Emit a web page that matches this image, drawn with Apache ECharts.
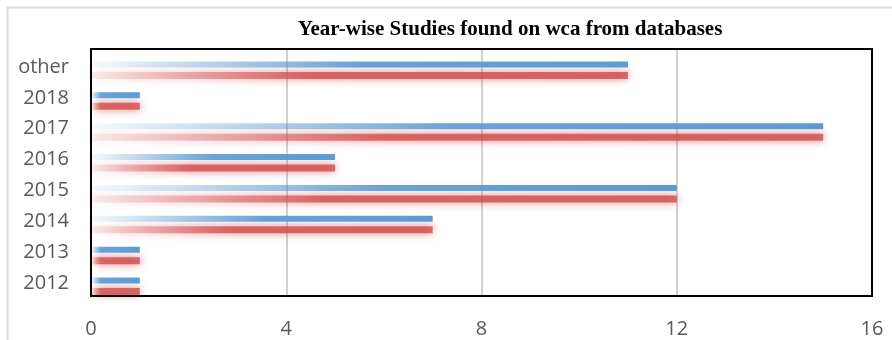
<!DOCTYPE html>
<html>
<head>
<meta charset="utf-8">
<script src="https://cdn.jsdelivr.net/npm/echarts@6/dist/echarts.min.js"></script>
<style>html,body{margin:0;padding:0;background:#fff;}#c{width:892px;height:340px;}</style>
</head>
<body>
<div id="c"></div>
<script>
const categories = ['2012', '2013', '2014', '2015', '2016', '2017', '2018', 'other'];
const seriesBlue = [1, 1, 7, 12, 5, 15, 1, 11];
const seriesRed = [1, 1, 7, 12, 5, 15, 1, 11];
const xTicks = [0, 4, 8, 12, 16];
const titleText = 'Year-wise Studies found on wca from databases';

const chart = echarts.init(document.getElementById('c'), null, {renderer: 'canvas'});

function blueColor(p) {
  const full = p.value <= 1 ? 0.2 : 0.5;
  return new echarts.graphic.LinearGradient(0, 0, 1, 0, [
    {offset: 0, color: 'rgba(91,155,213,0.05)'},
    {offset: full, color: 'rgba(91,155,213,0.92)'},
    {offset: 1, color: 'rgba(91,155,213,1)'}
  ]);
}
function redColor(p) {
  const full = p.value <= 1 ? 0.2 : 0.4;
  return new echarts.graphic.LinearGradient(0, 0, 1, 0, [
    {offset: 0, color: 'rgba(214,80,80,0.08)'},
    {offset: full, color: 'rgba(206,62,62,0.7)'},
    {offset: 1, color: 'rgba(206,62,62,0.72)'}
  ]);
}

const gridBase = {left: 91, width: 781, height: 247};
const xMin = xTicks[0], xMax = xTicks[xTicks.length - 1], xStep = xTicks[1] - xTicks[0];

chart.setOption({
  animation: false,
  title: {
    text: titleText,
    left: 505,
    top: 14,
    textAlign: 'center',
    textStyle: {fontFamily: 'Liberation Serif', fontWeight: 'bold', fontSize: 21, color: '#000'}
  },
  graphic: [
    {type: 'rect', z: 0, silent: true, shape: {x: 7.5, y: 7.5, width: 950, height: 450},
     style: {fill: null, stroke: '#dcdcdc', lineWidth: 2}},
    {type: 'rect', z: 100, silent: true, shape: {x: 91, y: 49, width: 781, height: 247},
     style: {fill: null, stroke: '#000', lineWidth: 2}}
  ],
  grid: [
    Object.assign({top: 49}, gridBase),
    Object.assign({top: 60}, gridBase)
  ],
  xAxis: [
    {gridIndex: 0, type: 'value', min: xMin, max: xMax, interval: xStep,
     axisLine: {show: false}, axisTick: {show: false},
     axisLabel: {fontFamily: 'Open Sans', fontSize: 20, color: '#595959', margin: 23},
     splitLine: {show: true, lineStyle: {color: '#d0d0d0', width: 2}}},
    {gridIndex: 1, type: 'value', min: xMin, max: xMax, interval: xStep, show: false,
     splitLine: {show: false}}
  ],
  yAxis: [
    {gridIndex: 0, type: 'category', data: categories,
     axisLine: {show: false}, axisTick: {show: false},
     axisLabel: {fontFamily: 'Open Sans', fontSize: 20, color: '#595959', margin: 22,
                 verticalAlign: 'top', lineHeight: 5}},
    {gridIndex: 1, type: 'category', data: categories, show: false}
  ],
  series: [
    {name: 'Series 1', type: 'bar', xAxisIndex: 0, yAxisIndex: 0, data: seriesBlue,
     barWidth: 6, z: 3,
     itemStyle: {color: blueColor}},
    {name: 'Series 2', type: 'bar', xAxisIndex: 1, yAxisIndex: 1, data: seriesRed,
     barWidth: 7, z: 2,
     itemStyle: {color: redColor, shadowBlur: 9, shadowColor: 'rgba(206,62,62,0.9)'}}
  ]
});
</script>
</body>
</html>
